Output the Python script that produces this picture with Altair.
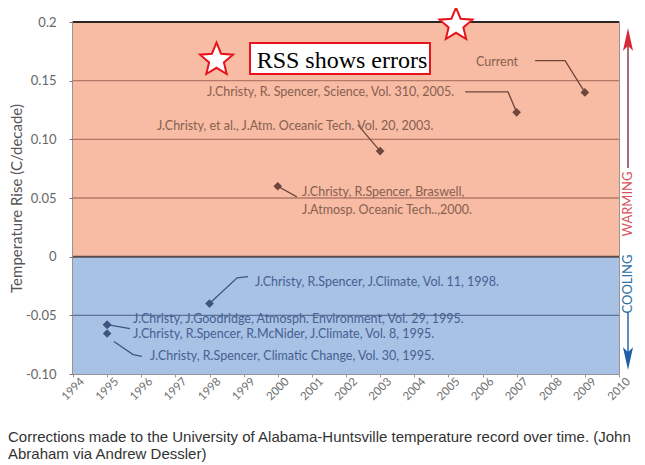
import math
import altair as alt
import pandas as pd

# ---------------- data ----------------
x_years = list(range(1994, 2011))
y_tick_values = [0.2, 0.15, 0.1, 0.05, 0.0, -0.05, -0.1]
y_tick_labels = ["0.2", "0.15", "0.10", "0.05", "0", "-0.05", "-0.10"]

band_zone = ["warm", "cool"]
band_low = [0.0, -0.1]
band_high = [0.2, 0.0]

grid_values = [0.15, 0.10, 0.05, -0.05]
grid_zone = ["warm", "warm", "warm", "cool"]

pub_year = [2009, 2007, 2003, 2000, 1998, 1995, 1995, 1995]
pub_value = [0.140, 0.123, 0.090, 0.060, -0.040, -0.058, -0.058, -0.0655]
pub_zone = ["warm", "warm", "warm", "warm", "cool", "cool", "cool", "cool"]

label_text = [
    "Current",
    "J.Christy, R. Spencer, Science, Vol. 310, 2005.",
    "J.Christy,  et al., J.Atm. Oceanic Tech. Vol. 20, 2003.",
    "J.Christy, R.Spencer, Braswell,",
    "J.Atmosp. Oceanic Tech..,2000.",
    "J.Christy, R.Spencer, J.Climate, Vol. 11, 1998.",
    "J.Christy, J.Goodridge, Atmosph. Environment, Vol. 29, 1995.",
    "J.Christy, R.Spencer, R.McNider, J.Climate, Vol. 8, 1995.",
    "J.Christy, R.Spencer, Climatic Change, Vol. 30, 1995.",
]
label_year = [2005.81, 1997.93, 1996.46, 2000.71, 2000.71, 1999.33, 1995.76, 1995.76, 1996.26]
label_value = [0.166, 0.140, 0.111, 0.055, 0.040, -0.022, -0.0535, -0.0655, -0.0843]
label_zone = ["warm"] * 5 + ["cool"] * 4

leader_id = [1, 1, 1, 2, 2, 2, 3, 3, 4, 4, 5, 5, 5, 6, 6, 7, 7, 7]
leader_year = [2007.54, 2008.42, 2009.0, 2005.49, 2006.75, 2007.0, 2002.35, 2003.0,
               2000.0, 2000.56, 1998.0, 1998.81, 1999.13, 1995.0, 1995.67,
               1995.2, 1995.76, 1996.02]
leader_value = [0.167, 0.167, 0.140, 0.1404, 0.1404, 0.123, 0.1123, 0.090,
                0.060, 0.051, -0.040, -0.018, -0.017, -0.058, -0.0613,
                -0.0723, -0.0834, -0.085]
leader_zone = ["warm"] * 10 + ["cool"] * 8

box_text = "RSS shows errors"
warming_text = "WARMING"
cooling_text = "COOLING"
caption_1 = "Corrections made to the University of Alabama-Huntsville temperature record over time. (John"
caption_2 = "Abraham via Andrew Dessler)"
y_title = "Temperature Rise (C/decade)"

# ---------------- styling ----------------
W, H = 546, 352
PAD = {"left": 65, "top": 14, "right": 18, "bottom": 91}
FONT = "Lato"
WARM_BG, COOL_BG = "#F8BBA4", "#A8C2E6"
WARM_GRID, COOL_GRID = "#B47868", "#5E7296"
WARM_MARK, COOL_MARK = "#6E463C", "#3E5580"
WARM_TEXT, COOL_TEXT = "#86604F", "#46608F"
RED = "#E8141B"

band_df = pd.DataFrame({"zone": band_zone, "lo": band_low, "hi": band_high})
grid_df = pd.DataFrame({"v": grid_values, "zone": grid_zone})
pub_df = pd.DataFrame({"year": pub_year, "value": pub_value, "zone": pub_zone})
label_df = pd.DataFrame({"text": label_text, "year": label_year, "value": label_value, "zone": label_zone})
leader_df = pd.DataFrame({"id": leader_id, "year": leader_year, "value": leader_value,
                          "zone": leader_zone, "seq": list(range(len(leader_id)))})
zero_df = pd.DataFrame({"v": [band_low[0]]})
top_df = pd.DataFrame({"v": [band_high[0]]})
one = pd.DataFrame({"k": [0]})

x_scale = alt.Scale(domain=[1994, 2010], nice=False, zero=False)
y_scale = alt.Scale(domain=[-0.1, 0.2], nice=False, zero=False)

label_expr = ("[" + ",".join(f"'{s}'" for s in y_tick_labels) + "][indexof(["
              + ",".join(repr(v) for v in y_tick_values) + "], datum.value)]")

y_axis = alt.Axis(values=y_tick_values, labelExpr=label_expr, grid=False, domain=False,
                  tickColor="#8a7570", tickSize=4, labelColor="#666666", labelFont=FONT,
                  labelFontSize=13, labelPadding=13, title=y_title, titleFont=FONT,
                  titleFontSize=15, titleFontWeight="normal", titleColor="#555555",
                  titleX=-57, titleY=176, titleBaseline="middle")
x_axis = alt.Axis(values=x_years, format="d", labelAngle=-45, labelAlign="center",
                  labelBaseline="middle", grid=False, domain=False,
                  tickColor="#999999", tickSize=3, labelColor="#6f6f6f", labelFont=FONT,
                  labelFontSize=11.5, labelPadding=12, title="")


def X(field):
    return alt.X(field, type="quantitative", scale=x_scale, axis=x_axis)


def Y(field):
    return alt.Y(field, type="quantitative", scale=y_scale, axis=y_axis)


def zone_color(warm, cool):
    return alt.condition("datum.zone == 'warm'", alt.value(warm), alt.value(cool))


bands = alt.Chart(band_df).mark_rect().encode(
    x=alt.value(0), x2=alt.value(W), y=Y("lo"), y2="hi:Q",
    color=zone_color(WARM_BG, COOL_BG),
)
grid = alt.Chart(grid_df).mark_rule(strokeWidth=1.3).encode(
    y=Y("v"), color=zone_color(WARM_GRID, COOL_GRID))
zero_line = alt.Chart(zero_df).mark_rule(strokeWidth=2, color="#5B4B4B").encode(y=Y("v"))
top_line = alt.Chart(top_df).mark_rule(strokeWidth=2.2, color="#2E2626").encode(y=Y("v"))

leaders = alt.Chart(leader_df).mark_line(strokeWidth=1.3).encode(
    x=X("year"), y=Y("value"), detail="id:N", order="seq:Q",
    color=zone_color(WARM_MARK, COOL_MARK),
)
points = alt.Chart(pub_df).mark_point(shape="diamond", filled=True, size=75, opacity=1).encode(
    x=X("year"), y=Y("value"), color=zone_color(WARM_MARK, COOL_MARK))
labels = alt.Chart(label_df).mark_text(align="left", baseline="middle", font=FONT,
                                        fontSize=12.5).encode(
    x=X("year"), y=Y("value"), text="text:N",
    color=zone_color(WARM_TEXT, COOL_TEXT),
)

# decorations
pts = []
for i in range(10):
    r = 1.0 if i % 2 == 0 else 0.45
    a = math.pi / 2 + i * math.pi / 5
    pts.append((r * math.cos(a), -r * math.sin(a)))
star_path = "M" + " L".join(f"{px:.3f},{py:.3f}" for px, py in pts) + " Z"
arrow_up = "M0,-1 L0.42,0.9 L0,0.5 L-0.42,0.9 Z"
arrow_down = "M0,1 L0.42,-0.9 L0,-0.5 L-0.42,-0.9 Z"


def star(xv, yv):
    return alt.Chart(one).mark_point(shape=star_path, size=1200, filled=True, fill="white",
                                     stroke=RED, strokeWidth=2, opacity=1).encode(
        x=alt.value(xv), y=alt.value(yv))


SIDE_X = 555
box = alt.Chart(one).mark_rect(fill="white", stroke=RED, strokeWidth=2).encode(
    x=alt.value(177), x2=alt.value(357), y=alt.value(21), y2=alt.value(52))
box_label = alt.Chart(one).mark_text(text=box_text, font="Liberation Serif", fontSize=24,
                                     color="black", align="center", baseline="alphabetic").encode(
    x=alt.value(269), y=alt.value(46))

warm_shaft = alt.Chart(one).mark_rule(color="#8E3A4A", strokeWidth=1.5).encode(
    x=alt.value(SIDE_X), y=alt.value(22), y2=alt.value(146))
warm_head = alt.Chart(one).mark_point(shape=arrow_up, size=576, filled=True, color="#D8283A",
                                      opacity=1).encode(x=alt.value(SIDE_X), y=alt.value(18))
warm_label = alt.Chart(one).mark_text(text=warming_text, font=FONT, fontSize=13, angle=270,
                                      color="#D9505A", align="center", baseline="middle").encode(
    x=alt.value(SIDE_X), y=alt.value(182))
cool_label = alt.Chart(one).mark_text(text=cooling_text, font=FONT, fontSize=13, angle=270,
                                      color="#2B6FA3", align="center", baseline="middle").encode(
    x=alt.value(SIDE_X), y=alt.value(262))
cool_shaft = alt.Chart(one).mark_rule(color="#2A66A8", strokeWidth=1.5).encode(
    x=alt.value(SIDE_X), y=alt.value(290), y2=alt.value(333))
cool_head = alt.Chart(one).mark_point(shape=arrow_down, size=576, filled=True, color="#1E5FA5",
                                      opacity=1).encode(x=alt.value(SIDE_X), y=alt.value(336))

cap1 = alt.Chart(one).mark_text(text=caption_1, font="Liberation Sans", fontSize=15,
                                color="#333333", align="left", baseline="alphabetic").encode(
    x=alt.value(-65), y=alt.value(420))
cap2 = alt.Chart(one).mark_text(text=caption_2, font="Liberation Sans", fontSize=15,
                                color="#333333", align="left", baseline="alphabetic").encode(
    x=alt.value(-65), y=alt.value(437))

chart = alt.layer(
    bands, grid, zero_line, top_line, leaders, points, labels,
    box, box_label, star(143.5, 38), star(383, 3),
    warm_shaft, warm_head, warm_label, cool_label, cool_shaft, cool_head,
    cap1, cap2,
).properties(
    width=W, height=H, autosize=alt.AutoSizeParams(type="none"), padding=PAD,
    background="white",
).configure_view(stroke="#7a7070", strokeWidth=1.5)

chart.save("out.html", embed_options={"renderer": "svg", "actions": False})
